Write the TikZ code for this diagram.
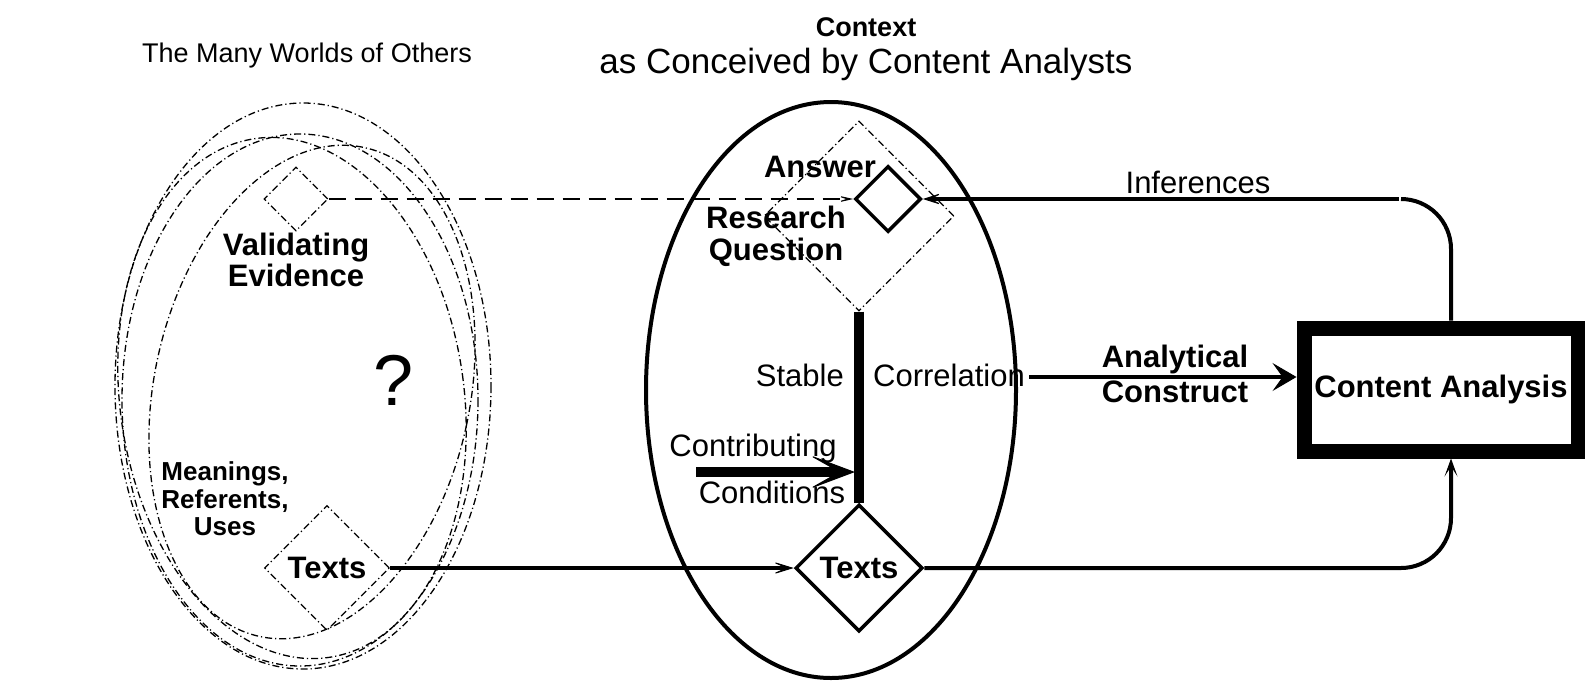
\documentclass[tikz,border=0pt]{standalone}
\usepackage{fontspec}
\setmainfont{Liberation Sans}
\usetikzlibrary{shapes.geometric,arrows.meta}
\begin{document}
\begin{tikzpicture}[x=1pt,y=-1pt,
  lbl/.style={font=\fontsize{31}{31}\selectfont, inner sep=0pt},
  blbl/.style={font=\fontsize{31}{31}\selectfont\bfseries, inner sep=0pt, align=center},
  dd/.style={line width=1.3pt, dash pattern=on 7pt off 3pt on 1.2pt off 3pt},
  dia/.style={diamond, shape aspect=1, inner sep=0pt},
  conn/.style={line width=4pt},
  thin tip/.style={-{Stealth[length=26pt,width=16pt,inset=18pt,line width=1pt]}}
]
\useasboundingbox (0,0) rectangle (1585,681);

% headings
\node[lbl, font=\fontsize{27}{27}\selectfont] (worlds) at (307,56) {The Many Worlds of Others};
\node[blbl, font=\fontsize{27}{27}\selectfont\bfseries] (context) at (866,27) {Context};
\node[lbl, font=\fontsize{35}{35}\selectfont] (conceived) at (866,64) {as Conceived by Content Analysts};

% left: many worlds
\draw[dd] (303,386) ellipse [x radius=188, y radius=283];
\draw[dd] (300,400) ellipse [x radius=178, y radius=266];
\draw[dd, rotate around={-12:(312,392)}] (312,392) ellipse [x radius=158, y radius=250];
\draw[dd, rotate around={8:(292,398)}] (292,398) ellipse [x radius=172, y radius=262];

\node[dia, dd, draw, minimum size=64pt] (vd) at (296,199) {};
\node[blbl] (valid) at (296,260) {Validating\\Evidence};
\node[font=\fontsize{72}{72}\selectfont, inner sep=0pt] (q) at (394,380) {?};
\node[blbl, font=\fontsize{26}{27.5}\selectfont\bfseries] (mean) at (225,499) {Meanings,\\Referents,\\Uses};
\node[dia, dd, draw, minimum size=125pt, font=\fontsize{31}{31}\selectfont\bfseries] (lt) at (327,568) {Texts};

% context ellipse
\node[ellipse, draw, line width=4pt, minimum width=370pt, minimum height=576pt, inner sep=0pt] (ctx) at (831,390) {};

\node[dia, dd, draw, minimum size=190pt] (rq) at (859,216) {};
\node[dia, draw, line width=3.5pt, minimum size=66pt] (ans) at (888,199) {};
\node[blbl] (answer) at (820,167) {Answer};
\node[blbl, font=\fontsize{31}{32}\selectfont\bfseries] (rqlbl) at (776,236) {Research\\Question};

\node[dia, draw, line width=3.5pt, minimum size=127pt, font=\fontsize{31}{31}\selectfont\bfseries] (texts) at (859,568) {Texts};

\draw[line width=10pt] (rq.south) -- (texts.north);
\node[lbl, anchor=east] (stable) at (844,375) {Stable};
\node[lbl, anchor=west] (corr) at (873,375) {Correlation};

\node[lbl] (contrib) at (753,448) {Contributing};
\node[lbl] (condit) at (772,492) {Conditions};
\coordinate (ccs) at (696,472);
\coordinate (cce) at (855,472);
\draw[line width=10pt, -{Stealth[length=48pt,width=36pt,inset=32pt,line width=1pt]}] (ccs) -- (cce);

% content analysis
\node[draw, line width=15pt, minimum width=274pt, minimum height=123pt, inner sep=0pt,
      font=\fontsize{31}{31}\selectfont\bfseries] (ca) at (1441,389.5) {Content Analysis};
\node[blbl, font=\fontsize{31}{35}\selectfont\bfseries] (anc) at (1175,374) {Analytical\\Construct};
\draw[conn, -{Stealth[length=24pt,width=28pt,inset=10pt,line width=1pt]}] (corr.east) ++(4,2) -- (ca.west |- 0,377);

% texts connectors
\draw[conn, thin tip] (lt.east) -- (texts.west);
\coordinate (corner) at (1451,568);
\coordinate (ret) at (1451,199);
\draw[conn, rounded corners=50pt, -{Stealth[length=18pt,width=13pt,inset=10pt,line width=1pt]}] (texts.east) -- (corner) -- (ca.south -| corner);
\draw[conn, rounded corners=50pt] (ca.north -| corner) -- (ret) -- ++(-50,0);
\coordinate (gapL) at (1399,199);
\draw[conn, -{Stealth[length=22pt,width=14pt,inset=14pt,line width=1pt]}] (gapL) -- (ans.east);
\node[lbl] (inf) at (1198,182) {Inferences};

% dashed validation
\draw[line width=2pt, dash pattern=on 17pt off 9pt, -{Stealth[length=22pt,width=10pt,inset=15pt,line width=1pt]}] (vd.east) -- (ans.west);
\end{tikzpicture}
\end{document}
